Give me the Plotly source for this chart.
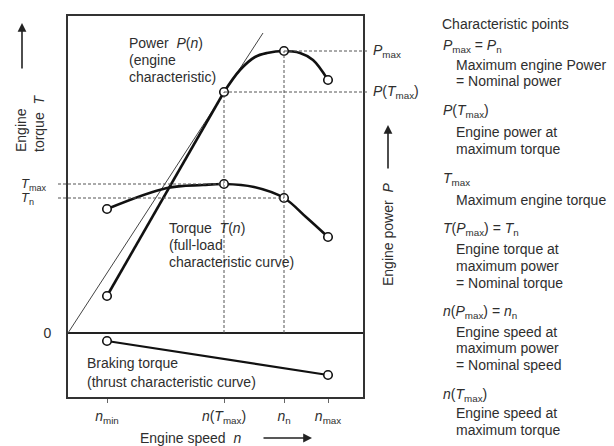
import plotly.graph_objects as go

# Characteristic engine speeds (rpm)
n_min = 780
n_Tmax = 3120
n_n = 4320
n_max = 5200

# Full-load power curve P(n)
power_n = [780, 3120, 3440, 3740, 3980, 4320, 4640, 4900, 5200]
power_p = [37, 241, 263, 276, 280, 282, 280, 273, 253]

# Full-load torque curve T(n)
torque_n = [780, 1980, 2700, 3120, 3720, 4320, 4760, 5200]
torque_t = [124, 145, 148, 149, 146, 135, 116, 96]

# Braking (thrust) torque
brake_n = [780, 5200]
brake_t = [-8, -42]

# Tangent from the origin to the power curve
tangent_n = [0, 3900]
tangent_p = [0, 300]

# Characteristic values
P_max = 282
P_Tmax = 241
T_max = 149
T_n = 135

x_ticks = [n_min, n_Tmax, n_n, n_max]
x_tick_text = ["<i>n</i><sub>min</sub>", "<i>n</i>(<i>T</i><sub>max</sub>)",
               "<i>n</i><sub>n</sub>", "<i>n</i><sub>max</sub>"]

X_RANGE = [0, 5900]
Y_RANGE = [-64, 317]

W, H = 614, 446
ML, MR, MT, MB = 68, 251, 16, 49
PW, PH = W - ML - MR, H - MT - MB

FONT = "Liberation Sans, Arial, sans-serif"
TXT = "#2e2e2e"
INK = "#111111"


def xp(px):
    return (px - ML) / PW


def yp(py):
    return (H - MB - py) / PH


def dx(v):
    return (v - X_RANGE[0]) / (X_RANGE[1] - X_RANGE[0])


def dy(v):
    return (v - Y_RANGE[0]) / (Y_RANGE[1] - Y_RANGE[0])


fig = go.Figure()

# thin tangent line
fig.add_trace(go.Scatter(x=tangent_n, y=tangent_p, mode="lines",
                         line=dict(color="#444", width=1), hoverinfo="skip"))
# power: straight rise, then curved section
fig.add_trace(go.Scatter(x=power_n[:2], y=power_p[:2], mode="lines",
                         line=dict(color=INK, width=2.6), hoverinfo="skip"))
fig.add_trace(go.Scatter(x=power_n[1:], y=power_p[1:], mode="lines",
                         line=dict(color=INK, width=2.6, shape="spline", smoothing=1.0),
                         hoverinfo="skip"))
# torque
fig.add_trace(go.Scatter(x=torque_n, y=torque_t, mode="lines",
                         line=dict(color=INK, width=2.6, shape="spline", smoothing=1.0),
                         hoverinfo="skip"))
# braking torque
fig.add_trace(go.Scatter(x=brake_n, y=brake_t, mode="lines",
                         line=dict(color=INK, width=2.2), hoverinfo="skip"))

# characteristic points
pts_n = [n_min, n_Tmax, n_n, n_max, n_min, n_Tmax, n_n, n_max, n_min, n_max]
pts_v = [power_p[0], P_Tmax, P_max, power_p[-1],
         torque_t[0], T_max, T_n, torque_t[-1], brake_t[0], brake_t[-1]]
fig.add_trace(go.Scatter(x=pts_n, y=pts_v, mode="markers", cliponaxis=False,
                         marker=dict(size=8.5, color="white",
                                     line=dict(color=INK, width=1.6)),
                         hoverinfo="skip"))

DASH = dict(color="#555", width=1, dash="3px,2px")
shapes = [
    # horizontal guides to the power labels
    dict(type="line", xref="paper", yref="paper", x0=dx(n_n), x1=xp(367),
         y0=dy(P_max), y1=dy(P_max), line=DASH),
    dict(type="line", xref="paper", yref="paper", x0=dx(n_Tmax), x1=xp(367),
         y0=dy(P_Tmax), y1=dy(P_Tmax), line=DASH),
    # horizontal guides to the torque labels
    dict(type="line", xref="paper", yref="paper", x0=xp(58), x1=dx(n_Tmax),
         y0=dy(T_max), y1=dy(T_max), line=DASH),
    dict(type="line", xref="paper", yref="paper", x0=xp(58), x1=dx(n_n),
         y0=dy(T_n), y1=dy(T_n), line=DASH),
    # vertical guides down to the zero line
    dict(type="line", xref="x", yref="y", x0=n_Tmax, x1=n_Tmax, y0=0, y1=P_Tmax,
         line=DASH),
    dict(type="line", xref="x", yref="y", x0=n_n, x1=n_n, y0=0, y1=P_max,
         line=DASH),
]

ann = []


def text(t, px, py, size=14, xanchor="left", angle=0):
    ann.append(dict(text=t, x=xp(px), y=yp(py), xref="paper", yref="paper",
                    showarrow=False, xanchor=xanchor, yanchor="middle",
                    textangle=angle, font=dict(family=FONT, size=size, color=TXT)))


def arrow(hx, hy, ox, oy):
    ann.append(dict(text="", x=xp(hx), y=yp(hy), xref="paper", yref="paper",
                    showarrow=True, ax=ox, ay=oy, arrowhead=2, arrowsize=1.1,
                    arrowwidth=1.6, arrowcolor="#222"))


# curve labels inside the plot
text("Power&nbsp;&nbsp;<i>P</i>(<i>n</i>)", 127, 43)
text("(engine", 127, 60)
text("characteristic)", 127, 77)
text("Torque&nbsp;&nbsp;<i>T</i>(<i>n</i>)", 167, 228)
text("(full-load", 167, 245)
text("characteristic curve)", 167, 262)
text("Braking torque", 85, 363)
text("(thrust characteristic curve)", 85, 382)


def side_label(t, xpx, yval, size=14):
    ann.append(dict(text=t, x=xp(xpx), y=yval, xref="paper", yref="y",
                    showarrow=False, xanchor="left", yanchor="middle",
                    font=dict(family=FONT, size=size, color=TXT)))


# power value labels
side_label("<i>P</i><sub>max</sub>", 371, P_max)
side_label("<i>P</i>(<i>T</i><sub>max</sub>)", 371, P_Tmax)
# torque value labels
side_label("<i>T</i><sub>max</sub>", 19, T_max, size=13)
side_label("<i>T</i><sub>n</sub>", 19, T_n, size=13)

# axis titles with arrows
ann.append(dict(text="Engine<br>torque&nbsp;&nbsp;<i>T</i>", x=xp(30), y=yp(124),
                xref="paper", yref="paper", showarrow=False, textangle=-90,
                align="left", xanchor="center", yanchor="middle",
                font=dict(family=FONT, size=14, color=TXT)))
arrow(22, 23, 0, 47)
text("Engine power&nbsp;&nbsp;<i>P</i>", 388, 235, xanchor="center", angle=-90)
arrow(388, 125, 0, 45)
text("Engine speed&nbsp;&nbsp;<i>n</i>", 190, 438, xanchor="center")
arrow(312, 438, -50, 0)

# characteristic points legend block
legend_lines = [
    ("Characteristic points", 440, 24),
    ("<i>P</i><sub>max</sub> = <i>P</i><sub>n</sub>", 441, 46),
    ("Maximum engine Power", 454, 65),
    ("= Nominal power", 454, 81),
    ("<i>P</i>(<i>T</i><sub>max</sub>)", 441, 111),
    ("Engine power at", 454, 132),
    ("maximum torque", 454, 149),
    ("<i>T</i><sub>max</sub>", 441, 179),
    ("Maximum engine torque", 454, 200),
    ("<i>T</i>(<i>P</i><sub>max</sub>) = <i>T</i><sub>n</sub>", 441, 229),
    ("Engine torque at", 454, 249),
    ("maximum power", 454, 266),
    ("= Nominal torque", 454, 283),
    ("<i>n</i>(<i>P</i><sub>max</sub>) = <i>n</i><sub>n</sub>", 441, 312),
    ("Engine speed at", 454, 332),
    ("maximum power", 454, 348),
    ("= Nominal speed", 454, 365),
    ("<i>n</i>(<i>T</i><sub>max</sub>)", 441, 395),
    ("Engine speed at", 454, 413),
    ("maximum torque", 454, 430),
]
for t, px, py in legend_lines:
    text(t, px, py, size=14)

fig.update_layout(
    width=W, height=H,
    margin=dict(l=ML, r=MR, t=MT, b=MB, pad=0),
    paper_bgcolor="white", plot_bgcolor="white",
    showlegend=False,
    shapes=shapes,
    annotations=ann,
    font=dict(family=FONT, size=14, color=TXT),
    xaxis=dict(range=X_RANGE, showgrid=False, zeroline=False,
               showline=True, mirror=True, linecolor="#333", linewidth=2,
               tickmode="array", tickvals=x_ticks, ticktext=x_tick_text,
               ticks="outside", ticklen=4, tickcolor="#666", tickwidth=1,
               ticklabelstandoff=1,
               tickfont=dict(family=FONT, size=14, color=TXT)),
    yaxis=dict(range=Y_RANGE, showgrid=False, zeroline=True,
               zerolinecolor="#222", zerolinewidth=1.6,
               showline=True, mirror=True, linecolor="#333", linewidth=2,
               tickmode="array", tickvals=[0], ticktext=["0"], ticks="",
               ticklabelstandoff=12,
               tickfont=dict(family=FONT, size=14, color=TXT)),
)

fig.write_html("out.html")
